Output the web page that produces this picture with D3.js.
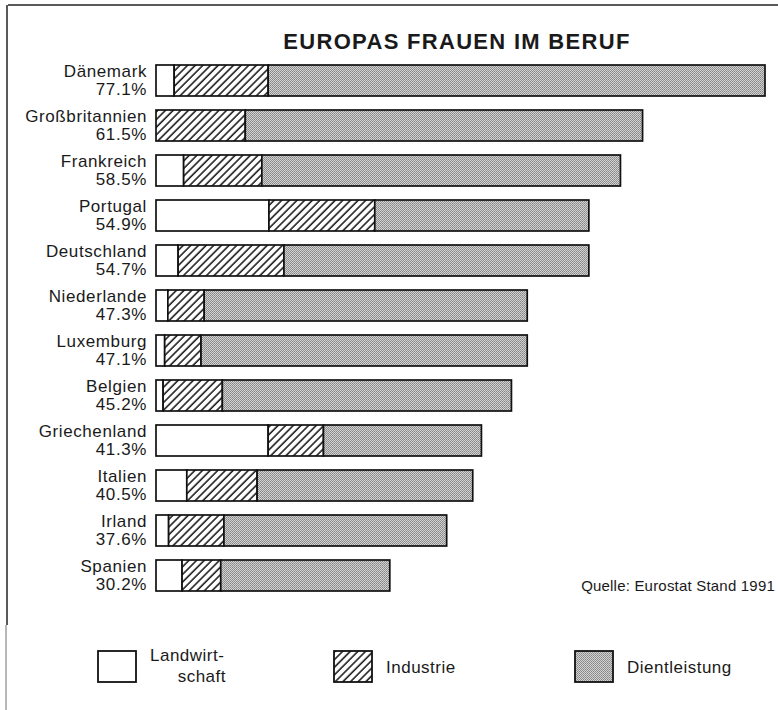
<!DOCTYPE html>
<html>
<head>
<meta charset="utf-8">
<script src="https://cdn.jsdelivr.net/npm/d3@7"></script>
<style>
  body { margin: 0; background: #fff; }
  text { font-family: "Liberation Sans", Arial, sans-serif; fill: #1a1a1a; }
</style>
</head>
<body>
<div class="canvas"></div>
<script>
// data
const countries = ['Dänemark', 'Großbritannien', 'Frankreich', 'Portugal', 'Deutschland', 'Niederlande',
    'Luxemburg', 'Belgien', 'Griechenland', 'Italien', 'Irland', 'Spanien'];
const rates = ['77.1%', '61.5%', '58.5%', '54.9%', '54.7%', '47.3%', '47.1%', '45.2%', '41.3%', '40.5%', '37.6%', '30.2%'];
const landwirtschaft = [2.3, 0, 3.5, 14.3, 2.8, 1.5, 1.1, 0.9, 14.2, 3.9, 1.6, 3.3];
const industrie = [11.9, 11.3, 9.9, 13.4, 13.4, 4.6, 4.6, 7.5, 7.0, 8.9, 7.0, 4.9];
const dienstleistung = [62.9, 50.3, 45.4, 27.1, 38.6, 40.9, 41.3, 36.6, 20.0, 27.3, 28.2, 21.4];
const sectors = ['landwirtschaft', 'industrie', 'dienstleistung'];
const legendLabels = [['Landwirt-', 'schaft'], ['Industrie'], ['Dientleistung']];
const title = 'EUROPAS FRAUEN IM BERUF';
const source = 'Quelle: Eurostat Stand 1991';

const svgDims = { width: 778, height: 710 };
const margin = { top: 65, right: 13, bottom: 119, left: 156 };
const graphWidth = 609;

const svg = d3.select('.canvas')
    .append('svg')
    .attr('width', svgDims.width)
    .attr('height', svgDims.height);

// fill patterns
const defs = svg.append('defs');
const hatch = defs.append('pattern')
    .attr('id', 'hatch')
    .attr('patternUnits', 'userSpaceOnUse')
    .attr('width', 5.4)
    .attr('height', 5.4)
    .attr('patternTransform', 'rotate(45)');
hatch.append('rect').attr('width', 5.4).attr('height', 5.4).attr('fill', '#fff');
hatch.append('line')
    .attr('x1', 1).attr('x2', 1)
    .attr('y1', 0).attr('y2', 5.4)
    .attr('stroke', '#111')
    .attr('stroke-width', 1.5);

const dots = defs.append('pattern')
    .attr('id', 'dots')
    .attr('patternUnits', 'userSpaceOnUse')
    .attr('width', 2)
    .attr('height', 2);
dots.append('rect').attr('width', 2).attr('height', 2).attr('fill', '#d2d2d2');
dots.append('rect').attr('width', 1).attr('height', 1).attr('fill', '#858585');
dots.append('rect').attr('x', 1).attr('y', 1).attr('width', 1).attr('height', 1).attr('fill', '#969696');

const fills = { landwirtschaft: '#fff', industrie: 'url(#hatch)', dienstleistung: 'url(#dots)' };

// frame
svg.append('line')
    .attr('x1', 8).attr('x2', 778)
    .attr('y1', 5).attr('y2', 5)
    .attr('stroke', '#222')
    .attr('stroke-width', 1.5);
svg.append('line')
    .attr('x1', 7).attr('x2', 7)
    .attr('y1', 5).attr('y2', 625)
    .attr('stroke', '#222')
    .attr('stroke-width', 1.5);
svg.append('line')
    .attr('x1', 6).attr('x2', 6)
    .attr('y1', 625).attr('y2', 710)
    .attr('stroke', '#888')
    .attr('stroke-width', 1.2);

svg.append('text')
    .attr('x', 457)
    .attr('y', 49)
    .attr('text-anchor', 'middle')
    .attr('font-size', 22)
    .attr('font-weight', 'bold')
    .attr('letter-spacing', 1.3)
    .text(title);

const graph = svg.append('g')
    .attr('transform', `translate(${margin.left}, ${margin.top})`);

const x = d3.scaleLinear()
    .domain([0, 77.1])
    .range([0, graphWidth]);

const y = d3.scaleBand()
    .domain(countries)
    .range([0, 526])
    .paddingInner(14 / 45)
    .paddingOuter(0);

const table = countries.map((c, i) => ({
    country: c,
    rate: rates[i],
    landwirtschaft: landwirtschaft[i],
    industrie: industrie[i],
    dienstleistung: dienstleistung[i]
}));

const stacked = d3.stack().keys(sectors)(table);

graph.selectAll('g.layer')
    .data(stacked)
    .enter()
    .append('g')
        .attr('class', 'layer')
        .attr('fill', d => fills[d.key])
    .selectAll('rect')
    .data(d => d.filter(s => s[1] - s[0] > 0))
    .enter()
    .append('rect')
        .attr('x', d => x(d[0]))
        .attr('y', d => y(d.data.country))
        .attr('width', d => x(d[1]) - x(d[0]))
        .attr('height', y.bandwidth())
        .attr('stroke', '#111')
        .attr('stroke-width', 1.7);

// country labels
const labels = graph.selectAll('g.label')
    .data(table)
    .enter()
    .append('g')
        .attr('class', 'label')
        .attr('transform', d => `translate(-9, ${y(d.country)})`);
labels.append('text')
    .attr('y', 11.5)
    .attr('text-anchor', 'end')
    .attr('font-size', 17)
    .attr('letter-spacing', 0.6)
    .text(d => d.country);
labels.append('text')
    .attr('y', 30)
    .attr('text-anchor', 'end')
    .attr('font-size', 17)
    .attr('letter-spacing', 0.6)
    .text(d => d.rate);

svg.append('text')
    .attr('x', 775)
    .attr('y', 591)
    .attr('text-anchor', 'end')
    .attr('font-size', 15)
    .attr('letter-spacing', 0.2)
    .text(source);

// legend
const legendX = [98, 334, 575];
const legend = svg.selectAll('g.legend')
    .data(sectors)
    .enter()
    .append('g')
        .attr('class', 'legend')
        .attr('transform', (d, i) => `translate(${legendX[i]}, 651)`);
legend.append('rect')
    .attr('width', 38)
    .attr('height', 31)
    .attr('fill', d => fills[d])
    .attr('stroke', '#111')
    .attr('stroke-width', 1.8);
legend.each(function(d, i) {
    const lines = legendLabels[i];
    const t = d3.select(this).append('text')
        .attr('font-size', 17)
        .attr('letter-spacing', 0.5);
    if (lines.length === 2) {
        t.append('tspan').attr('x', 52).attr('y', 10).text(lines[0]);
        t.append('tspan').attr('x', 128).attr('y', 31).attr('text-anchor', 'end').text(lines[1]);
    } else {
        t.attr('x', 52).attr('y', 22).text(lines[0]);
    }
});
</script>
</body>
</html>
